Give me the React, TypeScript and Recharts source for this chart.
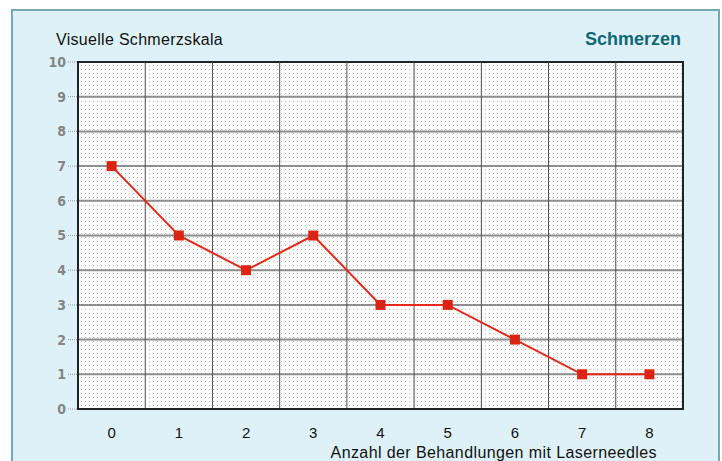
import { LineChart, Line, XAxis, YAxis, CartesianGrid, ReferenceArea, ReferenceLine } from 'recharts';

const treatments = [0, 1, 2, 3, 4, 5, 6, 7, 8];
const painScores = [7, 5, 4, 5, 3, 3, 2, 1, 1];
const yTicks = [0, 1, 2, 3, 4, 5, 6, 7, 8, 9, 10];
const boundaryTicks = [-0.5, 0.5, 1.5, 2.5, 3.5, 4.5, 5.5, 6.5, 7.5, 8.5];

const data = treatments.map((t, i) => ({ n: t, pain: painScores[i] }));

const SquareDot = (props: any) => {
  const { cx, cy } = props;
  if (cx == null || cy == null) return null;
  return <rect x={cx - 5} y={cy - 5} width={10} height={10} fill="#dc2414" />;
};

const sans = 'Liberation Sans, Arial, sans-serif';

const App = () => {
  return (
    <div style={{ position: 'absolute', left: 0, top: 0, width: 722, height: 461, background: '#fff', overflow: 'hidden', fontFamily: sans }}>
      <div style={{ position: 'absolute', left: 11, top: 9, width: 705, height: 460, border: '2px solid #76a9b6', background: '#dff1f8' }} />
      <div style={{ position: 'absolute', left: 56, top: 31, fontSize: 16, lineHeight: '18px', color: '#111', letterSpacing: 0.3 }}>Visuelle Schmerzskala</div>
      <div style={{ position: 'absolute', right: 41, top: 29, fontSize: 18, lineHeight: '20px', fontWeight: 'bold', color: '#0f6878' }}>Schmerzen</div>
      <div style={{ position: 'absolute', right: 65, top: 444, fontSize: 16, lineHeight: '18px', color: '#111', letterSpacing: 0.4 }}>Anzahl der Behandlungen mit Laserneedles</div>
      <div style={{ position: 'absolute', left: 0, top: 0 }}>
        <LineChart width={722} height={461} data={data} margin={{ top: 62, right: 39, bottom: 0, left: 20 }}>
          <defs>
            <pattern id="dots" width="4" height="4" patternUnits="userSpaceOnUse">
              <rect width="4" height="4" fill="#ffffff" />
              <rect x="1" y="1" width="1" height="1" fill="#b9b9b9" />
            </pattern>
          </defs>
          <CartesianGrid fill="url(#dots)" fillOpacity={1} vertical={false} stroke="#8e8e8e" strokeWidth={2} />
          {boundaryTicks.slice(1, -1).map((b) => (
            <ReferenceLine key={b} x={b} stroke="#4d4d4d" strokeWidth={1} />
          ))}
          <XAxis
            dataKey="n"
            type="number"
            domain={[-0.5, 8.5]}
            ticks={boundaryTicks}
            tick={false}
            tickLine={{ stroke: '#888', strokeDasharray: '1 1' }}
            tickSize={11}
            axisLine={{ stroke: '#222', strokeWidth: 2 }}
            height={12}
          />
          <XAxis
            xAxisId="labels"
            dataKey="n"
            type="number"
            domain={[-0.5, 8.5]}
            ticks={treatments}
            tickLine={false}
            axisLine={false}
            tickMargin={0}
            tick={{ fill: '#111', fontSize: 15, fontFamily: sans }}
            height={40}
          />
          <YAxis
            type="number"
            domain={[0, 10]}
            ticks={yTicks}
            width={58}
            tickSize={10}
            tickMargin={2}
            tickLine={{ stroke: '#999', strokeDasharray: '1 1' }}
            axisLine={{ stroke: '#222', strokeWidth: 2 }}
            tick={{ fill: '#858585', fontSize: 14, fontWeight: 'bold', fontFamily: 'Liberation Sans Narrow, DejaVu Sans Condensed, sans-serif' }}
          />
          <ReferenceArea x1={-0.5} x2={8.5} y1={0} y2={10} fill="none" stroke="#222" strokeWidth={2} ifOverflow="visible" />
          <Line
            dataKey="pain"
            stroke="#e5281a"
            strokeWidth={2}
            dot={<SquareDot />}
            activeDot={false}
            isAnimationActive={false}
          />
        </LineChart>
      </div>
    </div>
  );
};

export default App;
